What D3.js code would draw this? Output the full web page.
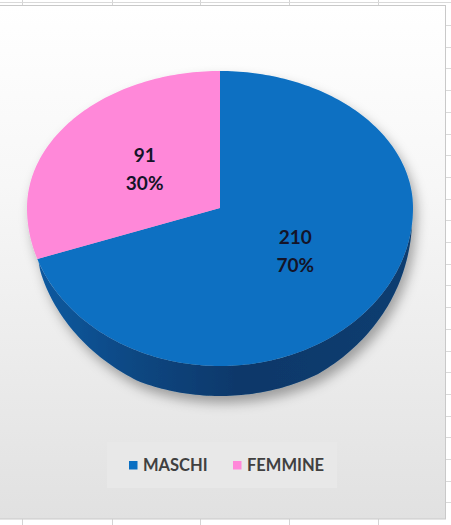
<!DOCTYPE html>
<html><head><meta charset="utf-8">
<script src="https://cdn.jsdelivr.net/npm/d3@7"></script>
<style>html,body{margin:0;padding:0;background:#fff;}svg{display:block;}</style>
</head><body>
<svg id="c" width="451" height="525"></svg>
<script>
const categories = ["MASCHI", "FEMMINE"];
const values = [210, 91];
const topColors = ["#0a6fc2", "#ff88d9"];
const sideColors = ["#0a3f72", "#c4569f"];

const W = 451, H = 525;
const svg = d3.select("#c");
const defs = svg.append("defs");

const bg = defs.append("linearGradient").attr("id","bg").attr("x1",0).attr("y1",0).attr("x2",0).attr("y2",1);
bg.append("stop").attr("offset","0%").attr("stop-color","#ffffff");
bg.append("stop").attr("offset","35%").attr("stop-color","#f7f7f7");
bg.append("stop").attr("offset","100%").attr("stop-color","#e1e1e1");

const sideGrad = defs.append("linearGradient").attr("id","sideBlue")
  .attr("gradientUnits","userSpaceOnUse").attr("x1",25).attr("y1",0).attr("x2",415).attr("y2",0);
sideGrad.append("stop").attr("offset","0%").attr("stop-color","#0c5ca4");
sideGrad.append("stop").attr("offset","30%").attr("stop-color","#0a4680");
sideGrad.append("stop").attr("offset","55%").attr("stop-color","#08386a");
sideGrad.append("stop").attr("offset","100%").attr("stop-color","#0a3d70");

const f = defs.append("filter").attr("id","shadow").attr("x","-20%").attr("y","-20%").attr("width","140%").attr("height","140%");
f.append("feDropShadow").attr("dx",4).attr("dy",7).attr("stdDeviation",6)
  .attr("flood-color","#000").attr("flood-opacity",0.33);

// spreadsheet background outside the chart
svg.append("rect").attr("width",W).attr("height",H).attr("fill","#ffffff");
const gridColX = [22, 112, 200, 289, 378];
gridColX.forEach(x => {
  svg.append("line").attr("x1",x+0.5).attr("x2",x+0.5).attr("y1",0).attr("y2",6).attr("stroke","#d4d4d4");
  svg.append("line").attr("x1",x+0.5).attr("x2",x+0.5).attr("y1",518).attr("y2",525).attr("stroke","#d4d4d4");
});
svg.append("line").attr("x1",0).attr("x2",W).attr("y1",2.5).attr("y2",2.5).attr("stroke","#d9d9d9");
d3.range(25, 520, 21.7).forEach(y => {
  svg.append("line").attr("x1",445).attr("x2",W).attr("y1",Math.round(y)+0.5).attr("y2",Math.round(y)+0.5).attr("stroke","#d9d9d9");
});

// chart area
svg.append("rect").attr("x",-1).attr("y",5.5).attr("width",446.5).attr("height",513.5)
  .attr("fill","url(#bg)").attr("stroke","#c9c9c9").attr("stroke-width",1);

// pie geometry (Excel-style 3D perspective approximated)
const cx = 220, cy = 208, rx = 193, ryTop = 137, ryBot = 158, depth = 30;
const deg = Math.PI/180;
const sideStart = 96*deg, sideFullR = 150*deg, sideFullL = 205*deg, sideEnd = 250*deg;
function depthAt(theta) {
  let t = 1;
  if (theta < sideFullR) t = (theta - sideStart)/(sideFullR - sideStart);
  else if (theta > sideFullL) t = (sideEnd - theta)/(sideEnd - sideFullL);
  t = Math.max(0, Math.min(1, t));
  return depth * Math.sqrt(t);
}
function proj(theta, r, dy) {
  const s = Math.sin(theta), c = Math.cos(theta);
  return [cx + rx*r*s, cy - (c > 0 ? ryTop : ryBot)*r*c + (dy||0)];
}
function arcPts(a0, a1, useDepth) {
  const n = Math.max(2, Math.ceil(Math.abs(a1-a0)/0.02));
  return d3.range(n+1).map(i => {
    const a = a0 + (a1-a0)*i/n;
    return proj(a, 1, useDepth ? depthAt(a) : 0);
  });
}

const pie = d3.pie().sort(null).value(d => d)(values);
const total = d3.sum(values);
const pct = d3.format(".0%");

const g = svg.append("g").attr("filter","url(#shadow)");
const line = d3.line();

// side faces (visible front part)
pie.forEach((d, i) => {
  const a0 = Math.max(d.startAngle, sideStart), a1 = Math.min(d.endAngle, sideEnd);
  if (a1 <= a0) return;
  const topArc = arcPts(a0, a1, false);
  const botArc = arcPts(a0, a1, true).reverse();
  g.append("path").attr("d", line(topArc.concat(botArc)) + "Z")
    .attr("fill", i === 0 ? "url(#sideBlue)" : sideColors[i]);
});
// top faces
pie.forEach((d, i) => {
  const pts = [[cx, cy]].concat(arcPts(d.startAngle, d.endAngle, false));
  g.append("path").attr("d", line(pts) + "Z").attr("fill", topColors[i]);
});

// data labels
const lab = svg.append("g").attr("font-family","Lato, 'Open Sans', sans-serif")
  .attr("font-weight","bold").attr("font-size",19).attr("fill","#141428").attr("text-anchor","middle");
pie.forEach((d, i) => {
  const mid = (d.startAngle + d.endAngle)/2;
  const [x, y] = proj(mid, 0.48, 0);
  lab.append("text").attr("x", x).attr("y", y - 8).text(d.value);
  lab.append("text").attr("x", x).attr("y", y + 20).text(pct(d.value/total));
});

// legend
svg.append("rect").attr("x",107).attr("y",442).attr("width",230).attr("height",46).attr("fill","#e8e8e8");
const legX = [129, 233];
const leg = svg.append("g");
categories.forEach((c, i) => {
  leg.append("rect").attr("x", legX[i]).attr("y", 461).attr("width", 8.5).attr("height", 8.5).attr("fill", topColors[i]);
  leg.append("text").attr("x", legX[i] + 14).attr("y", 470.5)
    .attr("font-family","Lato, 'Open Sans', sans-serif").attr("font-weight","bold").attr("font-size",16.5)
    .attr("fill","#404040").text(c);
});
</script>
</body></html>
